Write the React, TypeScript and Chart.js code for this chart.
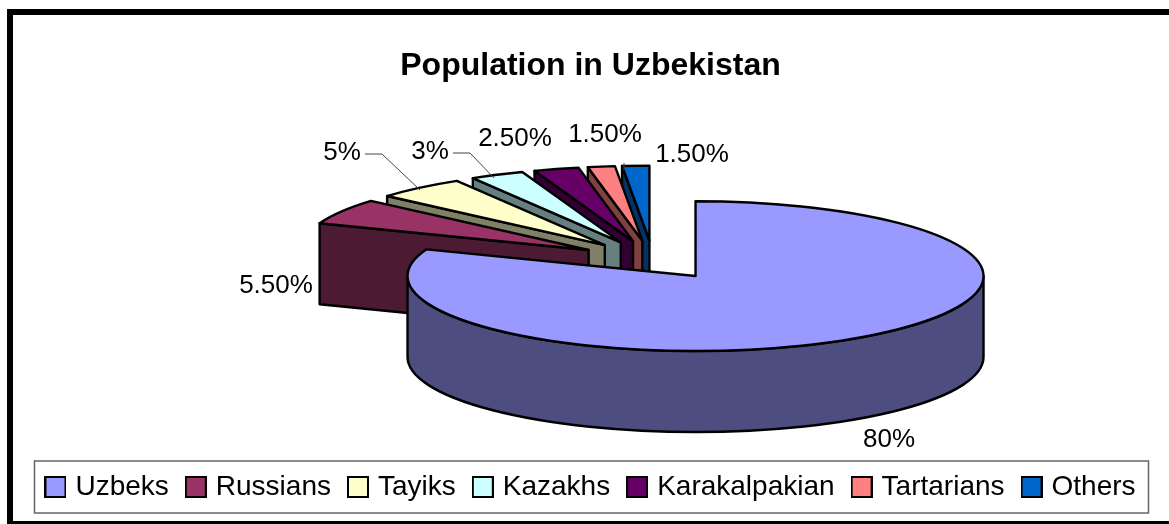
import React, { useEffect, useRef } from "react";
import { Chart, registerables } from "chart.js";

Chart.register(...registerables);

const categories = ["Uzbeks", "Russians", "Tayiks", "Kazakhs", "Karakalpakian", "Tartarians", "Others"];
const shares = [80, 5.5, 5, 3, 2.5, 1.5, 1.5];
const topColors = ["#9999FF", "#993366", "#FFFFCC", "#CCFFFF", "#660066", "#FF8080", "#0066CC"];
const sideColors = ["#4D4D80", "#4D1A33", "#808066", "#668080", "#330033", "#804040", "#003366"];
const chartTitle = "Population in Uzbekistan";

// Layout of the tilted pie and its annotations
const FONT = "'Liberation Sans', Arial, sans-serif";
const CENTER_X = 653;
const CENTER_Y = 260;
const TILT = 0.26;
const RADIUS = 288;
const EXPLODE = 75;
const DEPTH = 81;
const labelCenters = [
  [889, 440], [276, 286], [342, 153], [430, 152], [515, 139], [605, 135], [692, 155],
];
const leaders: (number[][] | null)[] = [
  null,
  null,
  [[365, 154], [382, 154], [420, 190]],
  [[453, 153], [470, 153], [494, 178]],
  null,
  null,
  [[624, 163], [624, 170]],
];

const formatShare = (v: number) => (Number.isInteger(v) ? `${v}%` : `${v.toFixed(2)}%`);

function legendIcon(color: string) {
  const c = document.createElement("canvas");
  c.width = 22;
  c.height = 22;
  const g = c.getContext("2d")!;
  g.fillStyle = color;
  g.fillRect(1, 1, 20, 20);
  g.strokeStyle = "#000";
  g.lineWidth = 2;
  g.strokeRect(1, 1, 20, 20);
  return c;
}

function drawSlice(chart: any, el: any, i: number) {
  const ctx: CanvasRenderingContext2D = chart.ctx;
  const { x, y, startAngle: s, endAngle: e, outerRadius: r } = el.getProps(
    ["x", "y", "startAngle", "endAngle", "outerRadius"],
    true
  );
  const mid = (s + e) / 2;
  const ax = CENTER_X + Math.cos(mid) * EXPLODE;
  const ay = CENTER_Y + Math.sin(mid) * EXPLODE * TILT;
  const outer = (a: number) => [ax + r * Math.cos(a), ay + r * Math.sin(a) * TILT];

  ctx.save();
  ctx.lineWidth = 2.4;
  ctx.lineJoin = "round";
  ctx.strokeStyle = "#000";
  ctx.fillStyle = sideColors[i];

  const radialFace = (a: number) => {
    const [ox, oy] = outer(a);
    ctx.beginPath();
    ctx.moveTo(ax, ay);
    ctx.lineTo(ox, oy);
    ctx.lineTo(ox, oy + DEPTH);
    ctx.lineTo(ax, ay + DEPTH);
    ctx.closePath();
    ctx.fill();
    ctx.stroke();
  };
  if (-Math.cos(s) > 1e-6) radialFace(s);
  if (Math.cos(e) > 1e-6) radialFace(e);

  const from = Math.max(s, 0);
  const to = Math.min(e, Math.PI);
  if (to > from) {
    ctx.beginPath();
    ctx.ellipse(ax, ay, r, r * TILT, 0, from, to);
    ctx.ellipse(ax, ay + DEPTH, r, r * TILT, 0, to, from, true);
    ctx.closePath();
    ctx.fill();
    ctx.stroke();
  }

  // top face: the library's own arc element, tilted and moved out
  ctx.save();
  ctx.translate(ax, ay);
  ctx.scale(1, TILT);
  ctx.translate(-x, -y);
  el.draw(ctx);
  ctx.restore();

  ctx.beginPath();
  ctx.moveTo(ax, ay);
  ctx.ellipse(ax, ay, r, r * TILT, 0, s, e);
  ctx.closePath();
  ctx.stroke();
  ctx.restore();
}

const pie3dPlugin = {
  id: "pie3d",
  afterLayout(chart: any) {
    const lg = chart.legend;
    lg.left += 2;
    lg.right += 2;
    lg.top += 2;
    lg.bottom += 2;
  },
  beforeDatasetDraw(chart: any) {
    const arcs = chart.getDatasetMeta(0).data;
    for (let i = arcs.length - 1; i >= 0; i--) drawSlice(chart, arcs[i], i);
    return false;
  },
  afterDatasetsDraw(chart: any) {
    const ctx: CanvasRenderingContext2D = chart.ctx;
    ctx.save();
    ctx.font = `26px ${FONT}`;
    ctx.fillStyle = "#000";
    ctx.textAlign = "center";
    ctx.textBaseline = "middle";
    shares.forEach((v, i) => {
      const [lx, ly] = labelCenters[i];
      ctx.fillText(formatShare(v), lx, ly);
      const path = leaders[i];
      if (path) {
        ctx.strokeStyle = "#444";
        ctx.lineWidth = 1;
        ctx.beginPath();
        path.forEach(([px, py], k) => (k ? ctx.lineTo(px, py) : ctx.moveTo(px, py)));
        ctx.stroke();
      }
    });
    ctx.restore();
  },
  afterDraw(chart: any) {
    const ctx: CanvasRenderingContext2D = chart.ctx;
    ctx.save();
    ctx.fillStyle = "#000";
    ctx.fillRect(7, 9, 1162, 6);
    ctx.fillRect(7, 9, 6, 515);
    ctx.fillRect(7, 521, 1162, 3);
    ctx.strokeStyle = "#666";
    ctx.lineWidth = 1.5;
    ctx.strokeRect(34.5, 461, 1114, 52);
    ctx.restore();
  },
};

export default function App() {
  const ref = useRef<HTMLCanvasElement>(null);
  useEffect(() => {
    document.body.style.margin = "0";
    document.body.style.background = "#fff";
    const icons = topColors.map(legendIcon);
    const chart = new Chart(ref.current!, {
      type: "pie",
      data: {
        labels: categories,
        datasets: [
          {
            data: shares,
            backgroundColor: topColors,
            borderWidth: 0,
          },
        ],
      },
      options: {
        responsive: false,
        animation: false,
        radius: RADIUS,
        layout: { padding: { left: 12, right: 0, top: 20, bottom: 15 } },
        plugins: {
          tooltip: { enabled: false },
          title: {
            display: true,
            text: chartTitle,
            color: "#000",
            font: { family: FONT, size: 32, weight: "bold" },
            padding: { top: 27, bottom: 10 },
          },
          legend: {
            position: "bottom",
            labels: {
              color: "#000",
              font: { family: FONT, size: 28 },
              usePointStyle: true,
              boxWidth: 12,
              padding: 21,
              generateLabels: (c: any) =>
                (Chart as any).overrides.doughnut.plugins.legend.labels
                  .generateLabels(c)
                  .map((it: any, i: number) => ({ ...it, pointStyle: icons[i] })),
            },
          },
        },
      } as any,
      plugins: [pie3dPlugin],
    });
    return () => chart.destroy();
  }, []);
  return <canvas ref={ref} width={1169} height={524} style={{ display: "block" }} />;
}
